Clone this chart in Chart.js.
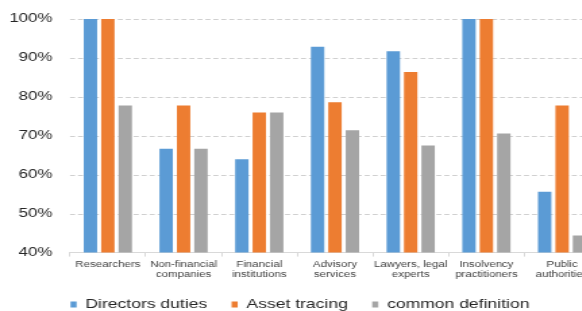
<!DOCTYPE html>
<html>
<head>
<meta charset="utf-8">
<script src="https://cdn.jsdelivr.net/npm/chart.js@4"></script>
<style>
  html, body { margin: 0; padding: 0; background: #fff; overflow: hidden; }
  #wrap { width: 453px; height: 311px; transform: scaleX(1.35); transform-origin: 0 0; }
</style>
</head>
<body>
<div id="wrap"><canvas id="grafica" width="453" height="311"></canvas></div>
<script>
const categorias = [
  'Researchers',
  ['Non-financial', 'companies'],
  ['Financial', 'institutions'],
  ['Advisory', 'services'],
  ['Lawyers, legal', 'experts'],
  ['Insolvency', 'practitioners'],
  ['Public', 'authorities']
];
const directorsDuties = [100, 66.7, 64, 92.9, 91.7, 100, 55.6];
const assetTracing = [100, 77.8, 76, 78.6, 86.4, 100, 77.8];
const commonDefinition = [77.8, 66.7, 76, 71.4, 67.5, 70.6, 44.4];
const ticksY = [40, 50, 60, 70, 80, 90, 100];

const fuente = 'Liberation Sans, Arial, Helvetica, sans-serif';

// lineas de rejilla discontinuas (por debajo de las barras)
const rejilla = {
  id: 'rejilla',
  beforeDatasetsDraw(chart) {
    const { ctx, chartArea, scales } = chart;
    ctx.save();
    ctx.strokeStyle = '#d0d0d0';
    ctx.lineWidth = 1;
    ctx.setLineDash([3.7, 2.2]);
    scales.y.ticks.forEach(t => {
      if (t.value === 40) return;
      const y = Math.round(scales.y.getPixelForValue(t.value)) + 0.5;
      ctx.beginPath();
      ctx.moveTo(chartArea.left, y);
      ctx.lineTo(chartArea.right, y);
      ctx.stroke();
    });
    ctx.restore();
  }
};

new Chart(document.getElementById('grafica').getContext('2d'), {
  type: 'bar',
  data: {
    labels: categorias,
    datasets: [
      { label: 'Directors duties', data: directorsDuties, backgroundColor: '#5B9BD5' },
      { label: 'Asset tracing', data: assetTracing, backgroundColor: '#ED7D31' },
      { label: 'common definition', data: commonDefinition, backgroundColor: '#A5A5A5' }
    ]
  },
  plugins: [rejilla],
  options: {
    responsive: false,
    animation: false,
    layout: { padding: { top: 19, right: 8.6, bottom: -10, left: 0 } },
    datasets: { bar: { categoryPercentage: 0.69, barPercentage: 0.77 } },
    plugins: {
      tooltip: { enabled: false },
      legend: {
        position: 'bottom',
        labels: {
          boxWidth: 4.5,
          boxHeight: 6,
          padding: 18,
          color: '#262626',
          font: { family: fuente, size: 13 }
        }
      }
    },
    scales: {
      x: {
        afterFit: (escala) => { escala.height -= 3; },
        grid: { drawOnChartArea: false, drawTicks: true, tickLength: 4, color: '#d9d9d9', offset: true },
        border: { display: true, color: '#d9d9d9' },
        ticks: {
          autoSkip: false,
          maxRotation: 0,
          padding: 3,
          color: '#404040',
          font: { family: fuente, size: 8.5, lineHeight: 1.2 }
        }
      },
      y: {
        min: 40,
        max: 100,
        afterBuildTicks: (escala) => { escala.ticks = ticksY.map(v => ({ value: v })); },
        afterFit: (escala) => { escala.width = 70 / 1.35; },
        grid: { display: false },
        border: { display: false },
        ticks: {
          padding: 5,
          color: '#262626',
          font: { family: fuente, size: 12.5 },
          callback: (v) => v + '%'
        }
      }
    }
  }
});
</script>
</body>
</html>
